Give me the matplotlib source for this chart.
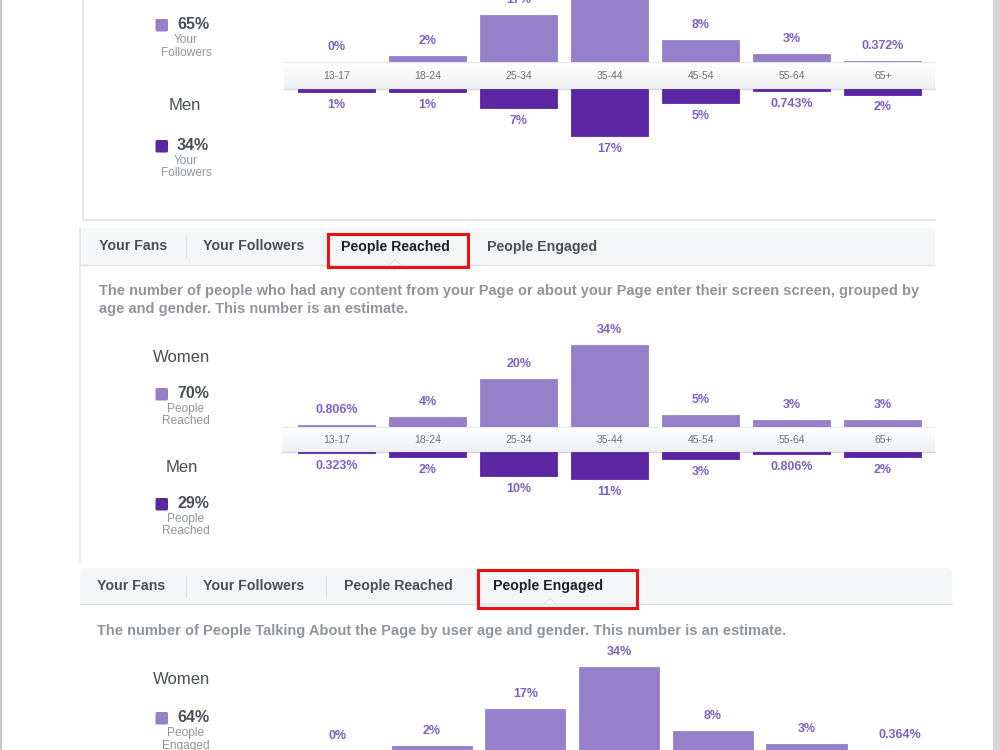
import matplotlib
matplotlib.use("Agg")
import matplotlib.pyplot as plt
import matplotlib.transforms as mtransforms
from matplotlib.patches import Rectangle, FancyBboxPatch, Polygon
import numpy as np

plt.rcParams['font.family'] = ['Liberation Sans', 'DejaVu Sans']

# ---------------- data ----------------
age_groups = ["13-17", "18-24", "25-34", "35-44", "45-54", "55-64", "65+"]

followers_women = [0, 2, 17, 35, 8, 3, 0.372]
followers_men = [1, 1, 7, 17, 5, 0.743, 2]
followers_total_women = "65%"
followers_total_men = "34%"

reached_women = [0.806, 4, 20, 34, 5, 3, 3]
reached_men = [0.323, 2, 10, 11, 3, 0.806, 2]
reached_total_women = "70%"
reached_total_men = "29%"

engaged_women = [0, 2, 17, 34, 8, 3, 0.364]
engaged_total_women = "64%"

tab_names = ["Your Fans", "Your Followers", "People Reached", "People Engaged"]
reached_desc = ["The number of people who had any content from your Page or about your Page enter their screen screen, grouped by",
                "age and gender. This number is an estimate."]
engaged_desc = ["The number of People Talking About the Page by user age and gender. This number is an estimate."]

# ---------------- style ----------------
C_WOMEN = "#9680c9"
C_MEN = "#5b26a2"
C_VAL = "#7d62c6"
C_DARK = "#4b4f56"
C_SEL = "#1d2129"
C_GRAY = "#90949c"
C_TABBG = "#f5f6f7"
C_BORDER = "#dddfe2"

W, H = 1000, 750
fig = plt.figure(figsize=(10, 7.5), dpi=100)
fig.patch.set_facecolor("white")

bg = fig.add_axes([0, 0, 1, 1])
bg.set_xlim(0, W)
bg.set_ylim(H, 0)
bg.axis("off")
bg.set_zorder(0)


def px_axes(l, t, r, b):
    ax = fig.add_axes([l / W, 1 - b / H, (r - l) / W, (b - t) / H])
    ax.set_zorder(2)
    ax.patch.set_alpha(0)
    ax.axis("off")
    return ax


def fmt(v):
    return f"{v:g}%"


# page edges
bg.add_patch(Rectangle((0, 0), 2, H, color="#c9c9c9", lw=0))
bg.add_patch(Rectangle((993, 0), 7, H, color="#d6d6d6", lw=0))

# panel 1 frame
bg.plot([83, 83], [0, 220], color="#e3e4e7", lw=1.2)
bg.plot([83, 935], [220, 220], color="#e3e4e7", lw=1.2)
# panel 2 frame
bg.plot([80, 80], [228, 562], color="#e3e4e7", lw=1.2)


def band(x0, x1, y0, y1):
    grad = np.linspace(0, 1, 50).reshape(-1, 1)
    cmap = matplotlib.colors.LinearSegmentedColormap.from_list("b", ["#ffffff", "#eef0f2"])
    bg.imshow(grad, extent=(x0, x1, y1, y0), aspect="auto", cmap=cmap, zorder=1)
    bg.plot([x0, x1], [y0, y0], color="#e6e7ea", lw=0.8, zorder=2)
    bg.plot([x0, x1], [y1, y1], color="#d6d8dc", lw=1.0, zorder=2)


def chart(cx0, step, wfrac, band_top, band_bot, scale, women, men, bx0, bx1, show_band=True):
    left = cx0 - step * 0.5
    right = cx0 + step * 6.5
    x = np.arange(len(age_groups))
    ext = 140
    axw = px_axes(left, band_top - ext, right, band_top)
    axw.set_xlim(-0.5, 6.5)
    axw.set_ylim(0, ext / scale)
    axw.bar(x, women, width=wfrac, color=C_WOMEN, edgecolor=C_WOMEN, linewidth=0.6, joinstyle="round")
    for i, v in enumerate(women):
        axw.annotate(fmt(v), xy=(i, v), xytext=(0, 15), textcoords="offset pixels",
                     ha="center", va="center", fontsize=9, fontweight="bold",
                     color=C_VAL, annotation_clip=False)
    if men is not None:
        axm = px_axes(left, band_bot, right, band_bot + ext)
        axm.set_xlim(-0.5, 6.5)
        axm.set_ylim(ext / scale, 0)
        axm.bar(x, men, width=wfrac, color=C_MEN, edgecolor=C_MEN, linewidth=0.6, joinstyle="round")
        for i, v in enumerate(men):
            axm.annotate(fmt(v), xy=(i, v), xytext=(0, -13), textcoords="offset pixels",
                         ha="center", va="center", fontsize=9, fontweight="bold",
                         color=C_VAL, annotation_clip=False)
    if show_band:
        band(bx0, bx1, band_top, band_bot)
        tr = mtransforms.blended_transform_factory(axw.transData, bg.transData)
        for i, lab in enumerate(age_groups):
            bg.text(i, (band_top + band_bot) / 2 + 0.5, lab, transform=tr, ha="center", va="center",
                    fontsize=7.5, color="#6d7075", zorder=3)


def legend_block(sq_y, color, pct, sub1, sub2):
    bg.add_patch(FancyBboxPatch((155.5, sq_y), 12.5, 12.5, boxstyle="round,pad=0,rounding_size=1.5",
                                color=color, lw=0))
    bg.text(193, sq_y + 5.5, pct, ha="center", va="center", fontsize=11.5, fontweight="bold", color=C_DARK)
    bg.text(186, sq_y + 21, sub1, ha="center", va="center", fontsize=8.6, color=C_GRAY)
    bg.text(186, sq_y + 33.5, sub2, ha="center", va="center", fontsize=8.6, color=C_GRAY)


def tabs(y0, y1, x0, x1, text_x, seps, sel, red, notch_x, desc, desc_y):
    bg.add_patch(FancyBboxPatch((x0, y0), x1 - x0, y1 - y0, boxstyle="round,pad=0,rounding_size=4",
                                fc=C_TABBG, ec="none", zorder=1))
    bg.plot([x0, x1], [y1, y1], color=C_BORDER, lw=1.0, zorder=2)
    ym = (y0 + y1) / 2
    for i, (name, tx) in enumerate(zip(tab_names, text_x)):
        bg.text(tx, ym, name, ha="left", va="center", fontsize=10.2, fontweight="bold",
                color=C_SEL if i == sel else C_DARK, zorder=3)
    for sx in seps:
        bg.plot([sx, sx], [y0 + 8, y1 - 8], color="#e1e2e5", lw=1, zorder=2)
    bg.add_patch(Polygon([[notch_x - 6, y1 + 0.5], [notch_x, y1 - 5.5], [notch_x + 6, y1 + 0.5]],
                         closed=True, fc="white", ec=C_BORDER, lw=0.8, zorder=3))
    rx0, ry0, rx1, ry1 = red
    bg.add_patch(Rectangle((rx0, ry0), rx1 - rx0, ry1 - ry0, fill=False, ec="#ee1111", lw=2.2, zorder=4))
    for k, line in enumerate(desc):
        bg.text(text_x[0], desc_y + 18 * k, line, ha="left", va="center", fontsize=10.5,
                fontweight="bold", color=C_GRAY, zorder=3)


# ---------------- panel 1: Your Followers ----------------
chart(336.5, 91.08, 0.845, 62, 89, 2.75, followers_women, followers_men, 284, 935)
legend_block(19, C_WOMEN, followers_total_women, "Your", "Followers")
bg.text(185, 106, "Men", ha="center", va="center", fontsize=12, color=C_DARK)
legend_block(140, C_MEN, followers_total_men, "Your", "Followers")

# ---------------- panel 2: People Reached ----------------
tabs(228, 265, 80, 935, [99, 203, 341, 487], [186, 323], 2, (328, 234, 468, 267), 395,
     reached_desc, 291)
chart(336.5, 91.08, 0.845, 427, 452, 2.42, reached_women, reached_men, 282, 935)
bg.text(182, 357, "Women", ha="center", va="center", fontsize=12, color=C_DARK)
legend_block(388, C_WOMEN, reached_total_women, "People", "Reached")
bg.text(182, 467, "Men", ha="center", va="center", fontsize=12, color=C_DARK)
legend_block(498, C_MEN, reached_total_men, "People", "Reached")

# ---------------- panel 3: People Engaged ----------------
tabs(568, 604, 80, 952, [97, 203, 344, 493], [186, 326], 3, (478, 570, 637, 608), 550,
     engaged_desc, 631)
chart(338, 93.7, 0.854, 751, 777, 2.47, engaged_women, None, 285, 950, show_band=False)
bg.text(182, 680, "Women", ha="center", va="center", fontsize=12, color=C_DARK)
legend_block(712, C_WOMEN, engaged_total_women, "People", "Engaged")

fig.savefig("out.png", dpi=100, facecolor="white")
